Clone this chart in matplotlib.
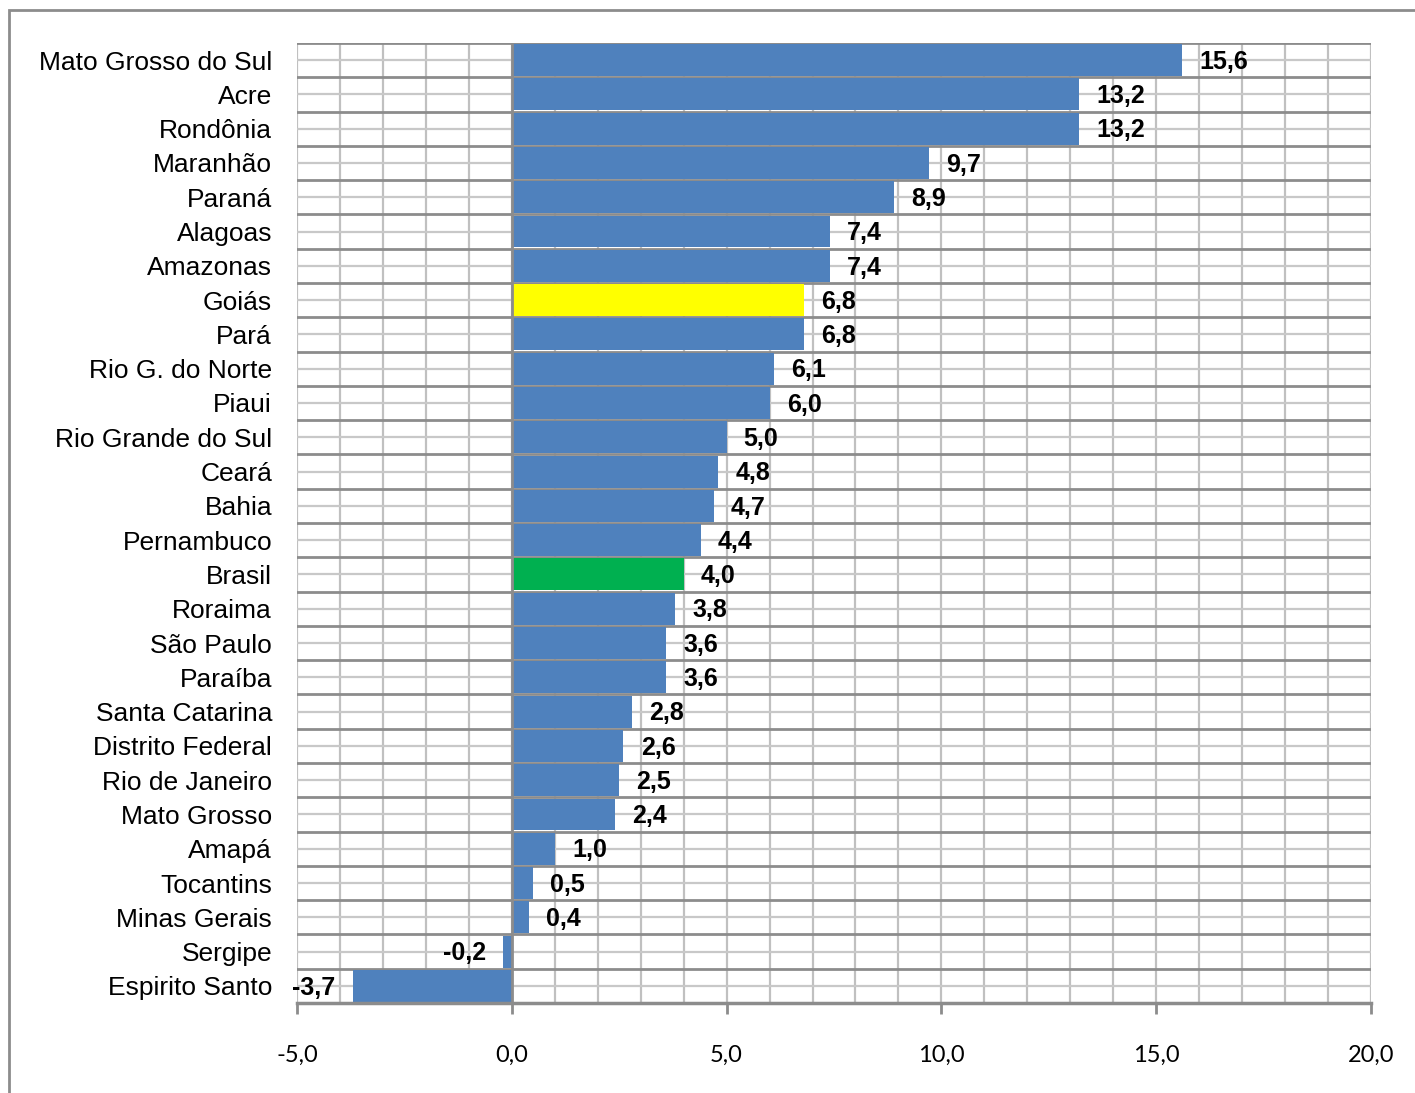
import numpy as np
import matplotlib.pyplot as plt
from matplotlib.patches import Rectangle

# Data (top to bottom)
states = ['Mato Grosso do Sul', 'Acre', 'Rondônia', 'Maranhão', 'Paraná', 'Alagoas',
          'Amazonas', 'Goiás', 'Pará', 'Rio G. do Norte', 'Piaui', 'Rio Grande do Sul',
          'Ceará', 'Bahia', 'Pernambuco', 'Brasil', 'Roraima', 'São Paulo', 'Paraíba',
          'Santa Catarina', 'Distrito Federal', 'Rio de Janeiro', 'Mato Grosso', 'Amapá',
          'Tocantins', 'Minas Gerais', 'Sergipe', 'Espirito Santo']
values = [15.6, 13.2, 13.2, 9.7, 8.9, 7.4, 7.4, 6.8, 6.8, 6.1, 6.0, 5.0, 4.8, 4.7, 4.4,
          4.0, 3.8, 3.6, 3.6, 2.8, 2.6, 2.5, 2.4, 1.0, 0.5, 0.4, -0.2, -3.7]
highlight = {'Goiás': '#FFFF00', 'Brasil': '#00B050'}
x_ticks = [-5, 0, 5, 10, 15, 20]

base_color = '#4F81BD'
colors = [highlight.get(s, base_color) for s in states]

fig = plt.figure(figsize=(14.15, 10.93), dpi=100)
ax = fig.add_axes([0.2099, 0.0823, 0.7590, 0.8784])

y = np.arange(len(states))

# grid: vertical every 1.0, horizontal at row centres and row boundaries
for xv in np.arange(-5, 21, 1):
    ax.axvline(xv, color='#c0c0c0', lw=1.6, zorder=0)
for yv in y:
    ax.axhline(yv, color='#c8c8c8', lw=1.6, zorder=0)
for yv in np.arange(-0.5, len(states), 1):
    ax.axhline(yv, color='#8c8c8c', lw=2.0, zorder=0.5)

ax.barh(y, values, height=0.93, color=colors, zorder=2)
ax.axvline(0, color='#8c8c8c', lw=2.0, zorder=3)

lbl_font = ['Liberation Sans', 'DejaVu Sans']
for yi, v in zip(y, values):
    txt = f'{v:.1f}'.replace('.', ',')
    if v >= 0:
        ax.text(v + 0.4, yi + 0.05, txt, ha='left', va='center', fontsize=18,
                fontweight='bold', family=lbl_font, zorder=4)
    else:
        ax.text(v - 0.4, yi + 0.05, txt, ha='right', va='center', fontsize=18,
                fontweight='bold', family=lbl_font, zorder=4)

ax.set_xlim(-5, 20)
ax.set_ylim(len(states) - 0.5, -0.5)
ax.set_yticks(y)
ax.set_yticklabels(states, fontsize=19, family=lbl_font)
ax.tick_params(axis='y', length=0, pad=18)
ax.set_xticks(x_ticks)
ax.set_xticklabels([f'{t:.1f}'.replace('.', ',') for t in x_ticks], fontsize=17,
                   family=['Lato', 'DejaVu Sans'])
ax.tick_params(axis='x', length=8, width=2, color='#8c8c8c', pad=22)

for side in ['top', 'right', 'left']:
    ax.spines[side].set_visible(False)
ax.spines['bottom'].set_color('#8c8c8c')
ax.spines['bottom'].set_linewidth(2.5)

# outer chart border
fig.patches.append(Rectangle((9 / 1415, -0.05), 1.2, 1 - 10 / 1093 + 0.05,
                             transform=fig.transFigure, fill=False,
                             edgecolor='#8c8c8c', lw=2))

fig.savefig('out.png', dpi=100)
